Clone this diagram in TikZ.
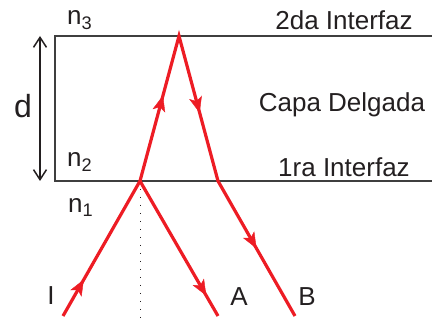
\documentclass[tikz,border=0pt]{standalone}
\usepackage{fontspec}
\setmainfont{Liberation Sans}
\usetikzlibrary{arrows.meta, decorations.markings}
\definecolor{RayRed}{HTML}{ED1C24}
\definecolor{FilmGray}{HTML}{3F3F3F}
\definecolor{TextBlack}{HTML}{231F20}
\tikzset{
    % Text labels
    lbl/.style={
        font=\fontsize{26}{31}\selectfont,
        text=TextBlack,
        inner sep=0pt
    },
    % Interface lines of the film
    iface/.style={
        draw=FilmGray,
        line width=1.5pt
    },
    % Light ray
    ray/.style={
        draw=RayRed,
        line width=3.2pt,
        line join=miter
    },
    % Arrow head on a ray
    tipat/.style={
        decoration={markings, mark=at position #1 with {\arrow{Stealth[length=16pt,width=13pt,inset=4pt,color=RayRed]}}},
        decorate
    },
    % Thickness arrow
    dim/.style={
        {Straight Barb[length=10pt,width=13pt]}-{Straight Barb[length=10pt,width=13pt]},
        draw=TextBlack,
        line width=1.5pt
    }
}
\begin{document}
\begin{tikzpicture}[x=1pt, y=-1pt]
        \useasboundingbox (0,0) rectangle (432,320);

        % Film
        \draw [iface] (432,36) -- (55,36) -- (55,181) -- (432,181);

        % Points on the rays
        \coordinate (I) at (63,316);
        \coordinate (P1) at (140,181);
        \coordinate (Ptop) at (179,36);
        \coordinate (P2) at (218,181);
        \coordinate (A) at (218,316);
        \coordinate (B) at (295,316);
        \coordinate (foot) at (140,320);
        \coordinate (dtop) at (40,36);
        \coordinate (dbot) at (40,181);

        % Normal
        \draw [TextBlack, line width=1pt, dash pattern=on 1.2pt off 6.8pt] (P1) -- (foot);

        % Rays
        \draw [ray] (I) -- (P1) -- (Ptop) -- (P2) -- (B);
        \draw [ray] (P1) -- (A);
        \path [tipat=0.27] (I) -- (P1);
        \path [tipat=0.59] (P1) -- (Ptop);
        \path [tipat=0.53] (Ptop) -- (P2);
        \path [tipat=0.5] (P2) -- (B);
        \path [tipat=0.85] (P1) -- (A);

        % Thickness
        \draw [dim] (dtop) -- (dbot);
        \node (d) [lbl, font=\fontsize{32}{38}\selectfont, anchor=base] at (23,118) {d};

        % Media
        \node (n3) [lbl, anchor=base west] at (67,25) {n\textsubscript{3}};
        \node (n2) [lbl, anchor=base west] at (67,167) {n\textsubscript{2}};
        \node (n1) [lbl, anchor=base west] at (68,213) {n\textsubscript{1}};

        \node (top) [lbl, anchor=base] at (344,30) {2da Interfaz};
        \node (film) [lbl, anchor=base] at (342,112) {Capa Delgada};
        \node (bottom) [lbl, anchor=base] at (344,177) {1ra Interfaz};

        % Ray names
        \node (lblI) [lbl, anchor=base] at (51,305) {I};
        \node (lblA) [lbl, anchor=base] at (239,306) {A};
        \node (lblB) [lbl, anchor=base] at (307,306) {B};
    \end{tikzpicture}
\end{document}
